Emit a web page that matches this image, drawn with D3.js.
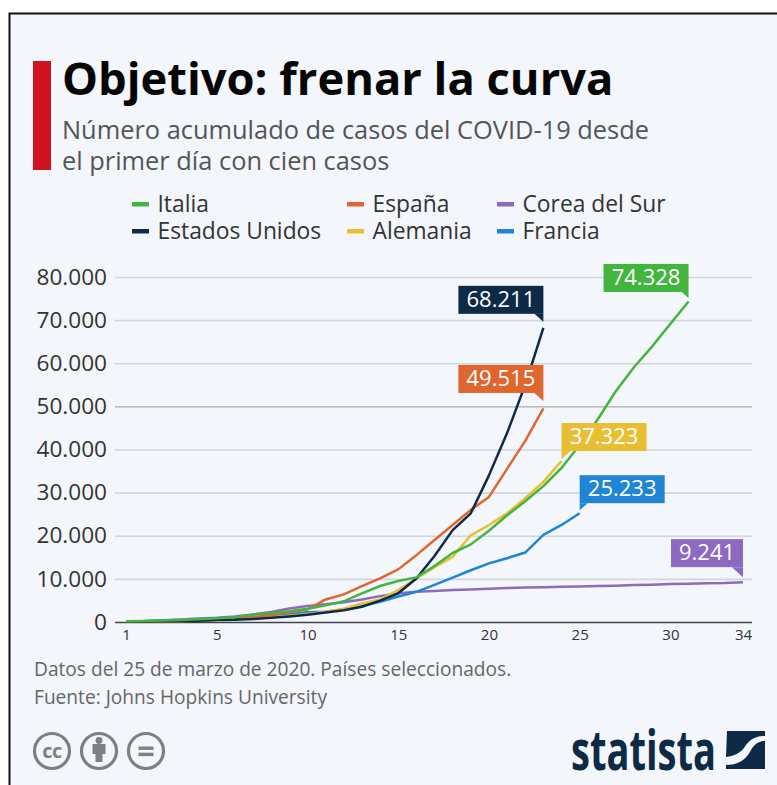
<!DOCTYPE html>
<html><head><meta charset="utf-8">
<script src="https://cdn.jsdelivr.net/npm/d3@7/dist/d3.min.js"></script>
<style>html,body{margin:0;padding:0;background:#fff}svg{display:block}text{font-family:"Open Sans",sans-serif}</style>
</head><body><svg id="c" width="777" height="785"></svg>
<script>
const xTickPositions=[0,5,10,15,20,25,30,34];
const xTickLabels=["1","5","10","15","20","25","30","34"];
const yTicks=[0,10000,20000,30000,40000,50000,60000,70000,80000];
const names=["Corea del Sur","Francia","Alemania","España","Estados Unidos","Italia"];
const colors=["#8e69c2","#1f85d4","#e8bf33","#e0662f","#0f2a47","#43b53e"];
const corea=[104,204,433,602,833,977,1261,1766,2337,3150,3736,4100,4600,5200,6000,6650,7000,7200,7400,7513,7700,7869,7979,8050,8162,8236,8320,8413,8565,8652,8799,8897,8961,9037,9241];
const francia=[130,191,204,285,377,653,949,1126,1209,1784,2281,2400,2900,3700,4700,5900,7000,8600,10300,12000,13600,14800,16100,20200,22500,25233];
const alemania=[117,150,188,240,349,534,684,847,1112,1460,1884,2369,3062,4300,5250,7400,10100,12700,15100,20100,22500,25200,28700,32500,37323];
const espana=[120,165,222,259,400,500,673,1073,1695,2277,2900,5232,6400,8300,10100,12200,15500,19000,22500,26000,29000,35500,42000,49515];
const eeuu=[100,125,160,220,300,440,520,700,1000,1300,1660,2180,2730,3550,4950,6650,10100,15300,21300,25200,34000,43800,55000,68211];
const italia=[155,229,322,453,655,888,1128,1694,2036,2502,3089,3858,4800,6650,8350,9500,10350,13000,16000,18000,21157,24747,28000,31506,35713,41035,47021,53578,59138,63927,69176,74328];
const seriesValues=[corea,francia,alemania,espana,eeuu,italia];
const legendRows=[["Italia","España","Corea del Sur"],["Estados Unidos","Alemania","Francia"]];
const legendColors=[["#43b53e","#e0662f","#8e69c2"],["#0f2a47","#e8bf33","#1f85d4"]];
const svg=d3.select("#c");
svg.append("rect").attr("x",9).attr("y",13).attr("width",768).attr("height",772).attr("fill","#f3f6fa");
svg.append("path").attr("d","M9.5 785V13.5H777").attr("fill","none").attr("stroke","#111").attr("stroke-width",2);
svg.append("rect").attr("x",33).attr("y",61).attr("width",18).attr("height",109).attr("fill","#d0121f");
svg.append("text").attr("x",62).attr("y",95).attr("font-size",45.3).attr("font-weight",700).attr("fill","#050505").text("Objetivo: frenar la curva");
[["Número acumulado de casos del COVID-19 desde",139],["el primer día con cien casos",170]].forEach(d=>
 svg.append("text").attr("x",62).attr("y",d[1]).attr("font-size",25.4).attr("fill","#555").text(d[0]));
const colX=[132,347,497],rowY=[204,231];
legendRows.forEach((r,i)=>r.forEach((n,j)=>{
 svg.append("rect").attr("x",colX[j]).attr("y",rowY[i]-2).attr("width",17).attr("height",4.5).attr("fill",legendColors[i][j]);
 svg.append("text").attr("x",colX[j]+25.5).attr("y",rowY[i]+7.5).attr("font-size",22.8).attr("fill","#333").text(n);
}));
const x=d3.scaleLinear().domain([0,34]).range([126,743]);
const y=d3.scaleLinear().domain([0,80000]).range([622,277]);
const loc=d3.formatLocale({decimal:",",thousands:".",grouping:[3],currency:["","€"]});
const fmt=loc.format(",d");
const yAxis=svg.append("g").attr("transform","translate(115,0)").call(d3.axisLeft(y).tickValues(yTicks).tickFormat(fmt).tickSize(-637).tickPadding(8));
yAxis.select(".domain").remove();
yAxis.selectAll(".tick line").attr("stroke",d=>d===0?"#444":d===50000?"#999":"#d2d5d9").attr("stroke-width",d=>d===0?1.5:d===50000?1:1.6);
yAxis.selectAll(".tick text").attr("font-size",22.6).attr("fill","#333").style("font-family",'"Open Sans",sans-serif');
const xAxis=svg.append("g").attr("transform","translate(0,622)").call(d3.axisBottom(x).tickValues(xTickPositions).tickFormat((d,i)=>xTickLabels[i]).tickSize(0).tickPadding(7));
xAxis.select(".domain").remove();
xAxis.selectAll("text").attr("font-size",15).attr("fill","#333").style("font-family",'"Open Sans",sans-serif');
const line=d3.line().x((d,i)=>x(i)).y(d=>y(d));
seriesValues.forEach((v,i)=>svg.append("path").attr("d",line(v)).attr("fill","none").attr("stroke",colors[i]).attr("stroke-width",2.5).attr("stroke-linejoin","round"));
const h=28;
const labelOffsets={"Corea del Sur":{side:"r",w:72,gap:15,t:10},"Francia":{side:"l",w:85,gap:10,t:7},"Alemania":{side:"l",w:85,gap:10,t:8},"España":{side:"r",w:85,gap:15.5,t:8},"Estados Unidos":{side:"r",w:85,gap:14,t:8},"Italia":{side:"r",w:85,gap:9.5,t:6}};
seriesValues.forEach((v,i)=>{
 const o=labelOffsets[names[i]],px=x(v.length-1),py=y(v[v.length-1]);
 const left=o.side==="r"?px-o.w:px, bot=py-o.gap, top=bot-h;
 const g=svg.append("g");
 const tail=o.side==="r"?`M${px-o.t-1} ${bot}L${px} ${bot+o.t}L${px} ${bot}Z`:`M${px+o.t+1} ${bot}L${px} ${bot+o.t}L${px} ${bot}Z`;
 g.append("rect").attr("x",left).attr("y",top).attr("width",o.w).attr("height",h).attr("fill",colors[i]);
 g.append("path").attr("d",tail).attr("fill",colors[i]);
 g.append("text").attr("x",left+o.w/2).attr("y",top+21).attr("text-anchor","middle").attr("font-size",22).attr("font-weight",500).attr("fill","#fff").text(fmt(v[v.length-1]));
});
[["Datos del 25 de marzo de 2020. Países seleccionados.",676],["Fuente: Johns Hopkins University",704]].forEach(d=>
 svg.append("text").attr("x",34).attr("y",d[1]).attr("font-size",19.15).attr("fill","#666").text(d[0]));
const gc="#808080";
[[52,"cc"],[99,"by"],[146,"eq"]].forEach(([cx,k])=>{
 const g=svg.append("g").attr("transform",`translate(${cx},751)`);
 g.append("circle").attr("r",17.5).attr("fill","none").attr("stroke",gc).attr("stroke-width",3.2);
 if(k==="cc")g.append("text").attr("text-anchor","middle").attr("y",6.5).attr("font-size",20).attr("font-weight",700).attr("letter-spacing",-0.5).attr("fill",gc).text("cc");
 if(k==="by"){g.append("circle").attr("cy",-10.5).attr("r",3.4).attr("fill",gc);g.append("path").attr("d","M-6.5 -7H6.5V3H3.5V11H-3.5V3H-6.5Z").attr("fill",gc);}
 if(k==="eq"){g.append("rect").attr("x",-7.5).attr("y",-4.5).attr("width",15).attr("height",3.4).attr("fill",gc);g.append("rect").attr("x",-7.5).attr("y",1.7).attr("width",15).attr("height",3.4).attr("fill",gc);}
});
svg.append("text").attr("x",571).attr("y",770).attr("font-size",56).attr("font-weight",700).attr("fill","#0f2a47").attr("textLength",145).attr("lengthAdjust","spacingAndGlyphs").text("statista");
svg.append("path").attr("d","M727 731H765V736C752 736 748 742 744 748C741 752 735 756 726 757Z M765 741V769H726V765C740 765 747 758 751 750C754 745 758 741 765 741Z").attr("fill","#0f2a47");
</script></body></html>
